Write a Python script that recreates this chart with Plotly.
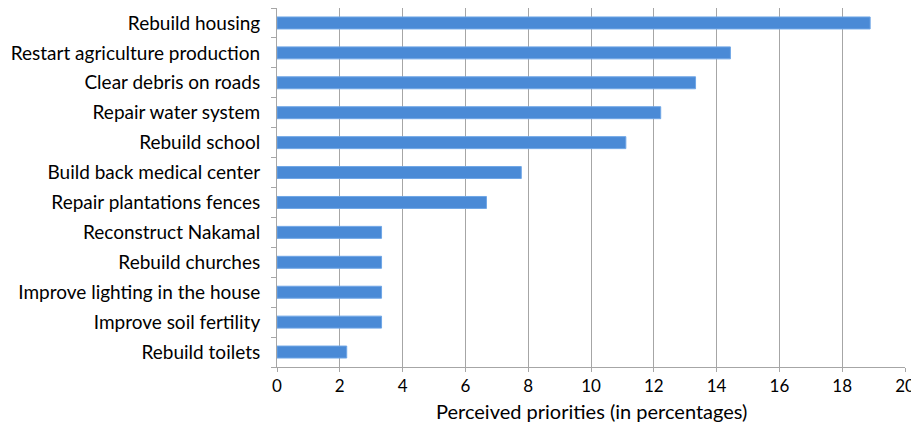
import plotly.graph_objects as go

# Priorities (percent of responses), top to bottom as in the chart
categories = [
    "Rebuild housing",
    "Restart agriculture production",
    "Clear debris on roads",
    "Repair water system",
    "Rebuild school",
    "Build back medical center",
    "Repair plantations fences",
    "Reconstruct Nakamal",
    "Rebuild churches",
    "Improve lighting in the house",
    "Improve soil fertility",
    "Rebuild toilets",
]
values = [18.89, 14.44, 13.33, 12.22, 11.11, 7.78, 6.67, 3.33, 3.33, 3.33, 3.33, 2.22]
x_title = "Perceived priorities (in percentages)"

fig = go.Figure()
fig.add_trace(go.Bar(
    x=values,
    y=categories,
    orientation="h",
    width=0.4,
    marker=dict(color="#4A8AD6", line=dict(color="#6FA6E6", width=1)),
))

# page body has an 8px margin, so the figure is offset by 8px
fig.update_layout(
    width=911, height=419,
    margin=dict(l=269, r=14, t=0, b=60),
    plot_bgcolor="white",
    paper_bgcolor="white",
    showlegend=False,
    font=dict(family="Lato, Open Sans, sans-serif", size=18, color="black"),
    xaxis=dict(
        range=[0, 20], dtick=2, tick0=0,
        showgrid=True, gridcolor="#A6A6A6", gridwidth=1,
        showline=True, linecolor="#A6A6A6",
        ticks="outside", ticklen=4, tickcolor="#A6A6A6",
        tickfont=dict(size=17),
        ticklabeloverflow="allow",
        zeroline=False,
        automargin=False,
    ),
    yaxis=dict(
        categoryorder="array", categoryarray=categories[::-1],
        showline=True, linecolor="#A6A6A6",
        ticks="outside", ticklen=5, tickcolor="#A6A6A6",
        tickson="boundaries",
        tickfont=dict(size=19),
        showgrid=False,
        ticklabelstandoff=12,
        automargin=False,
    ),
    bargap=0.6,
    annotations=[dict(
        text=x_title, xref="paper", yref="paper",
        x=0.5, y=-0.123, xanchor="center", yanchor="middle",
        showarrow=False, font=dict(size=20),
    )],
)

fig.write_html("out.html")
